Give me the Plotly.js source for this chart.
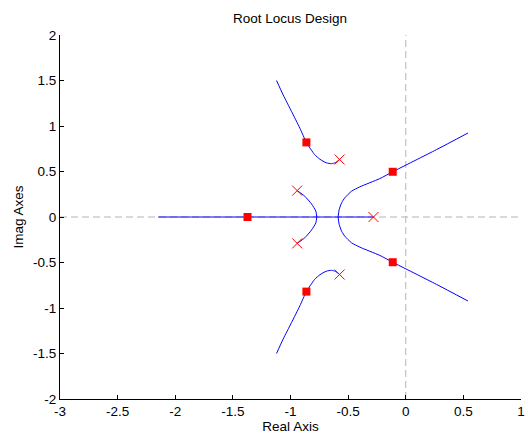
<!DOCTYPE html>
<html>
<head>
<meta charset="utf-8">
<script src="https://cdn.plot.ly/plotly-3.0.1.min.js"></script>
<style>html,body{margin:0;padding:0;background:#fff;}#plot{width:528px;height:435px;}</style>
</head>
<body>
<div id="plot"></div>
<script>
// Axis ranges / ticks
const xTicks = [-3, -2.5, -2, -1.5, -1, -0.5, 0, 0.5, 1];
const yTicks = [-2, -1.5, -1, -0.5, 0, 0.5, 1, 1.5, 2];
const xRange = [-3, 1];
const yRange = [-2, 2];

// Open-loop poles (x markers)
const poleRe = [-0.574, -0.574, -0.942, -0.942, -0.28];
const poleIm = [0.632, -0.632, 0.29, -0.29, 0];

// Closed-loop poles (red squares)
const clRe = [-0.862, -0.862, -1.373, -0.113, -0.113];
const clIm = [0.82, -0.82, 0, 0.497, -0.497];

// Locus branches
const b1Re = [-0.574, -0.61, -0.644, -0.69, -0.745, -0.79, -0.862, -0.919, -0.991, -1.064, -1.121];
const b1Im = [0.632, 0.598, 0.586, 0.596, 0.635, 0.685, 0.82, 0.977, 1.16, 1.342, 1.50];
const b2Re = [-0.574, -0.61, -0.644, -0.69, -0.745, -0.79, -0.862, -0.919, -0.991, -1.064, -1.121];
const b2Im = [-0.632, -0.598, -0.586, -0.596, -0.635, -0.685, -0.82, -0.977, -1.16, -1.342, -1.50];
const b3Re = [-0.942, -0.876, -0.818, -0.78, -0.772];
const b3Im = [0.29, 0.228, 0.144, 0.064, 0];
const b4Re = [-0.942, -0.876, -0.818, -0.78, -0.772];
const b4Im = [-0.29, -0.228, -0.144, -0.064, 0];
const b5Re = [-2.148, -0.772, -0.587, -0.28];
const b5Im = [0, 0, 0, 0];
const b6Re = [-0.587, -0.578, -0.555, -0.529, -0.471, -0.399, -0.225, -0.113, 0.266, 0.54];
const b6Im = [0, 0.08, 0.16, 0.21, 0.283, 0.331, 0.422, 0.497, 0.74, 0.923];
const b7Re = [-0.587, -0.578, -0.555, -0.529, -0.471, -0.399, -0.225, -0.113, 0.266, 0.54];
const b7Im = [0, -0.08, -0.16, -0.21, -0.283, -0.331, -0.422, -0.497, -0.74, -0.923];

const gray = '#b4b4b4';
const blue = '#0000ff';
const red = '#ff0000';

const traces = [
  {x: xRange, y: [0, 0], mode: 'lines', line: {color: gray, width: 1, dash: '7px,4px'}, hoverinfo: 'skip'},
  {x: [0, 0], y: yRange, mode: 'lines', line: {color: gray, width: 1, dash: '7px,4px'}, hoverinfo: 'skip'}
];
const branches = [[b1Re,b1Im],[b2Re,b2Im],[b3Re,b3Im],[b4Re,b4Im],[b5Re,b5Im],[b6Re,b6Im],[b7Re,b7Im]];
branches.forEach(([xr, yi]) => traces.push({
  x: xr, y: yi, mode: 'lines', line: {color: blue, width: 1, shape: 'spline', smoothing: 0.6}
}));
traces.push({x: poleRe, y: poleIm, mode: 'markers',
  marker: {symbol: 'x-thin', size: 10, line: {color: red, width: 1}, color: red}});
traces.push({x: clRe, y: clIm, mode: 'markers',
  marker: {symbol: 'square', size: 8, color: red, line: {width: 0}}});

const font = {family: 'Liberation Sans, Arial, sans-serif', size: 13.5, color: '#000'};
const layout = {
  width: 528, height: 435,
  margin: {l: 60, r: 7, t: 35, b: 36},
  paper_bgcolor: '#fff', plot_bgcolor: '#fff',
  showlegend: false,
  font: font,
  title: {text: 'Root Locus Design', font: font, x: 290/528, xanchor: 'center', y: 1 - 18/435, yanchor: 'middle', yref: 'container'},
  xaxis: {
    range: xRange, tickvals: xTicks, ticktext: xTicks.map(String),
    showgrid: false, zeroline: false, showline: true, linecolor: '#000', linewidth: 1,
    ticks: 'inside', ticklen: 4, tickcolor: '#000', tickfont: font,
    title: {text: 'Real Axis', font: font, standoff: 2}
  },
  yaxis: {
    range: yRange, tickvals: yTicks, ticktext: yTicks.map(String),
    showgrid: false, zeroline: false, showline: true, linecolor: '#000', linewidth: 1,
    ticks: 'inside', ticklen: 4, tickcolor: '#000', tickfont: font,
    title: {text: 'Imag Axes', font: font, standoff: 6}
  }
};
Plotly.newPlot('plot', traces, layout, {staticPlot: true, displayModeBar: false});
</script>
</body>
</html>
